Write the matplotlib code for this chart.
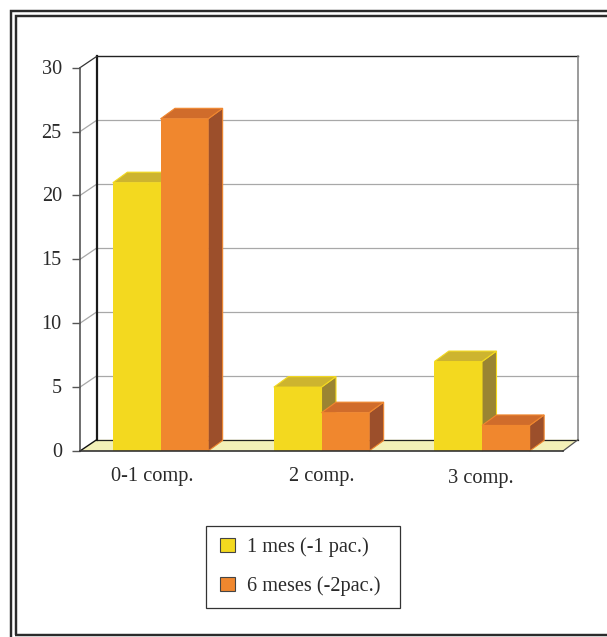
import matplotlib
matplotlib.use("Agg")
import matplotlib.pyplot as plt
from matplotlib.patches import Polygon, Rectangle
from matplotlib.legend_handler import HandlerPatch
from matplotlib.transforms import Affine2D

W, H = 607, 637
categories = ["0-1 comp.", "2 comp.", "3 comp."]
mes1 = [21, 5, 7]
mes6 = [26, 3, 2]
series_names = ["1 mes (-1 pac.)", "6 meses (-2pac.)"]
y_ticks = [0, 5, 10, 15, 20, 25, 30]

plt.rcParams['font.family'] = ['Liberation Serif', 'DejaVu Serif']
TXT = '#2a2a2a'
fig = plt.figure(figsize=(W / 100, H / 100), dpi=100, facecolor='white')

def rect(x0, y0, x1, y1):
    return [x0 / W, 1 - y1 / H, (x1 - x0) / W, (y1 - y0) / H]

# frame, in pixels of a full-figure overlay
bg = fig.add_axes([0, 0, 1, 1], zorder=0)
bg.set_xlim(0, W); bg.set_ylim(H, 0); bg.axis('off')
FR = dict(color='#2b2b2b', lw=1.75, solid_capstyle='butt', solid_joinstyle='miter')
bg.plot([10.7, 10.7, W], [H, 11, 11], **FR)
bg.plot([16, 16, W], [635.2, 16.3, 16.3], **FR)
bg.plot([15, W], [635.2, 635.2], **FR)

# front plane of the chart
ax = fig.add_axes(rect(80, 67.7, 563, 451), zorder=1)
ax.set_xlim(0, 3); ax.set_ylim(0, 30)
ax.patch.set_alpha(0)
for s in ax.spines.values():
    s.set_visible(False)

px_x = 483 / 3
px_y = 383.3 / 30
DX, DY = 16.7 / px_x, 11.3 / px_y      # left wall depth
DXR = 15 / px_x                        # right wall depth
BDX, BDY = 14.5 / px_x, 10.5 / px_y    # bar depth
ymax = y_ticks[-1]

# floor
ax.add_patch(Polygon([(0, 0), (3, 0), (3 + DXR, DY), (DX, DY)], closed=True,
                     fc='#f3f0b8', ec='none', clip_on=False, zorder=1))
# gridlines on back wall and left wall
for t in y_ticks[1:-1]:
    ax.plot([DX, 3 + DXR], [t + DY, t + DY], color='#a8a8a8', lw=0.9, clip_on=False, zorder=1.5)
    ax.plot([0, DX], [t, t + DY], color='#a8a8a8', lw=0.9, clip_on=False, zorder=1.5)
# back wall outline
ax.plot([DX, 3 + DXR], [ymax + DY, ymax + DY], color='#222222', lw=1.0, clip_on=False, zorder=1.6)
ax.plot([3 + DXR, 3 + DXR], [DY, ymax + DY], color='#808080', lw=1.1, clip_on=False, zorder=1.6)
ax.plot([DX, 3 + DXR], [DY, DY], color='#222222', lw=0.9, clip_on=False, zorder=1.6)
ax.plot([DX, DX], [DY, ymax + DY], color='#1a1a1a', lw=1.6, clip_on=False, zorder=1.7)
ax.plot([0, DX], [ymax, ymax + DY], color='#333333', lw=0.9, clip_on=False, zorder=1.7)
ax.plot([0, DX], [0, DY], color='#111111', lw=1.0, clip_on=False, zorder=1.7)
ax.plot([3, 3 + DXR], [0, DY], color='#555555', lw=0.9, clip_on=False, zorder=1.7)
# left axis
ax.plot([0, 0], [0, ymax], color='#555555', lw=1.2, clip_on=False, zorder=1.7)

BW = 0.296
def bar3d(x0, v, front, top, side, edge, z):
    x1 = x0 + BW
    ax.add_patch(Polygon([(x1, 0), (x1 + BDX, BDY), (x1 + BDX, v + BDY), (x1, v)], closed=True,
                         fc=side, ec=edge, lw=0.8, clip_on=False, zorder=z))
    ax.add_patch(Polygon([(x0, v), (x1, v), (x1 + BDX, v + BDY), (x0 + BDX, v + BDY)], closed=True,
                         fc=top, ec=edge, lw=0.8, clip_on=False, zorder=z))
    ax.add_patch(Rectangle((x0, 0), BW, v, fc=front, ec='none', clip_on=False, zorder=z + 0.1))

Y_F, Y_T, Y_S, Y_E = '#f3d91f', '#cdb42f', '#9a8432', '#f3d91f'
O_F, O_T, O_S, O_E = '#f0872e', '#d06c2b', '#9c4f2b', '#f0872e'
group_shift = [0, 0, -0.5 / px_x]
for i in range(len(categories)):
    c = i + 0.5 + group_shift[i]
    bar3d(c - BW, mes1[i], Y_F, Y_T, Y_S, Y_E, 2 + i)
    bar3d(c, mes6[i], O_F, O_T, O_S, O_E, 2.5 + i)

ax.plot([0, 3], [0, 0], color='#333333', lw=1.2, clip_on=False, zorder=8)

# y ticks / labels
ax.set_yticks(y_ticks)
ax.set_yticklabels([str(t) for t in y_ticks], fontsize=14.6, color=TXT)
ax.tick_params(axis='y', length=5.8, width=1.0, color='#555555', pad=7.3)
for l in ax.get_yticklabels():
    l.set_transform(l.get_transform() + Affine2D().translate(0, 1))
# x labels
ax.set_xticks([i + 0.5 for i in range(3)])
ax.set_xticklabels([])
ax.tick_params(axis='x', length=0)
label_off = [(-8.5, -25), (0, -26), (-1.5, -27)]
for i, lab in enumerate(categories):
    ax.annotate(lab, (i + 0.5, 0), xytext=(label_off[i][0] * 0.72, label_off[i][1] * 0.72),
                textcoords='offset points', ha='center', va='center', fontsize=14.7, color=TXT,
                annotation_clip=False)

# legend
def swatch(legend, orig_handle, xdescent, ydescent, width, height, fontsize):
    inset = 1.5
    return Rectangle((-xdescent + inset, -ydescent), width - inset, height)

handles = [Rectangle((0, 0), 1, 1, fc=Y_F, ec='#444444', lw=0.8),
           Rectangle((0, 0), 1, 1, fc=O_F, ec='#444444', lw=0.8)]
leg = fig.legend(handles, series_names, loc='lower left',
                 bbox_to_anchor=(206 / W, 1 - 608 / H, 194 / W, 82 / H), mode='expand',
                 fontsize=14.6, frameon=True, fancybox=False, edgecolor='#333333', framealpha=1,
                 handlelength=0.85, handleheight=0.7, handletextpad=0.6, labelspacing=0.97,
                 borderpad=0.57, borderaxespad=0, labelcolor=TXT,
                 handler_map={Rectangle: HandlerPatch(patch_func=swatch)})
leg.get_frame().set_linewidth(0.9)

fig.savefig('out.png', dpi=100, facecolor='white')
